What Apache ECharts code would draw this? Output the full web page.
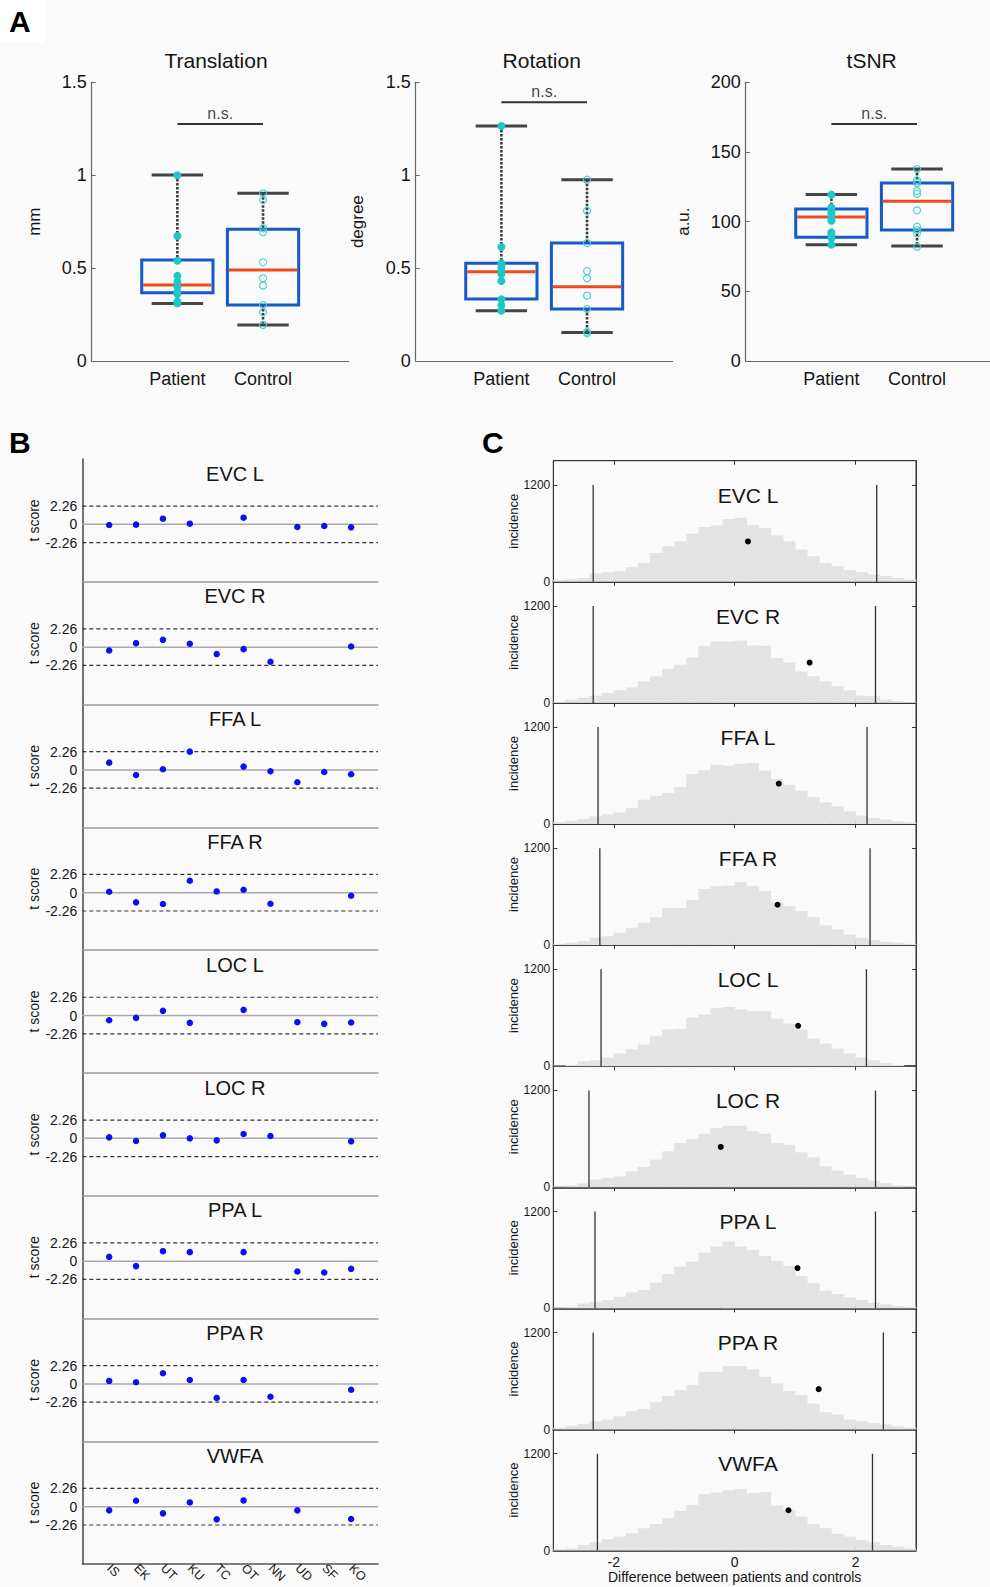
<!DOCTYPE html>
<html><head><meta charset="utf-8">
<script src="https://cdn.jsdelivr.net/npm/echarts@6/dist/echarts.min.js"></script>
<style>html,body{margin:0;padding:0;background:#fafafa}#c{width:990px;height:1587px}</style>
</head><body><div id="c"></div>
<script>
// ---------------- DATA ----------------
const GROUPS = ['Patient', 'Control'];
// Panel A: individual values and box statistics [min, Q1, median, Q3, max]
const TRANSLATION_PATIENT = [1.0, 0.673, 0.54, 0.458, 0.427, 0.40, 0.37, 0.36, 0.32, 0.31];
const TRANSLATION_CONTROL = [0.903, 0.867, 0.714, 0.693, 0.531, 0.445, 0.406, 0.301, 0.262, 0.194];
const TRANSLATION_BOX = [[0.310, 0.368, 0.409, 0.544, 1.001], [0.194, 0.301, 0.490, 0.709, 0.903]];
const ROTATION_PATIENT = [1.265, 0.614, 0.526, 0.508, 0.486, 0.468, 0.431, 0.332, 0.30, 0.271];
const ROTATION_CONTROL = [0.976, 0.809, 0.635, 0.484, 0.445, 0.352, 0.280, 0.158, 0.149];
const ROTATION_BOX = [[0.271, 0.334, 0.481, 0.526, 1.265], [0.153, 0.280, 0.400, 0.635, 0.976]];
const TSNR_PATIENT = [119.4, 110.3, 108.4, 106, 102.4, 100.7, 92.3, 90.4, 88, 83.5];
const TSNR_CONTROL = [137.8, 129.7, 127.8, 122, 120.1, 108.1, 96.4, 94, 91.6, 82];
const TSNR_BOX = [[83.5, 88.8, 103.3, 109.1, 119.4], [82.5, 94, 114.6, 127.8, 137.8]];
const NS_LEVEL = [1.275, 1.392, 170];
const A_YMAX = [1.5, 1.5, 200];
const A_YSTEP = [0.5, 0.5, 50];

// Panel B: t scores per subject (null = not available)
const SUBJECTS = ['IS', 'EK', 'UT', 'KU', 'TC', 'OT', 'NN', 'UD', 'SF', 'KO'];
const ROIS = ['EVC L', 'EVC R', 'FFA L', 'FFA R', 'LOC L', 'LOC R', 'PPA L', 'PPA R', 'VWFA'];
const T_CRIT = 2.26;
const T_TICKS = [-2.26, 0, 2.26];
const T_EVC_L = [-0.08, -0.04, 0.70, 0.08, null, 0.82, null, -0.33, -0.20, -0.37];
const T_EVC_R = [-0.41, 0.49, 0.90, 0.41, -0.86, -0.25, -1.81, null, null, 0.08];
const T_FFA_L = [0.90, -0.62, 0.08, 2.26, null, 0.41, -0.16, -1.52, -0.25, -0.53];
const T_FFA_R = [0.12, -1.19, -1.40, 1.48, 0.16, 0.37, -1.36, null, null, -0.37];
const T_LOC_L = [-0.58, -0.29, 0.58, -0.90, null, 0.70, null, -0.82, -1.03, -0.86];
const T_LOC_R = [0.12, -0.33, 0.37, 0.00, -0.25, 0.53, 0.29, null, null, -0.37];
const T_PPA_L = [0.53, -0.62, 1.23, 1.11, null, 1.11, null, -1.28, -1.40, -0.95];
const T_PPA_R = [0.37, 0.21, 1.32, 0.49, -1.73, 0.49, -1.58, null, null, -0.72];
const T_VWFA = [-0.45, 0.74, -0.82, 0.53, -1.56, 0.78, null, -0.45, null, -1.52];

// Panel C: permutation histograms (bin width 0.2)
const BIN_WIDTH = 0.2;
const BIN_CENTERS = [-2.9, -2.7, -2.5, -2.3, -2.1, -1.9, -1.7, -1.5, -1.3, -1.1, -0.9, -0.7, -0.5, -0.3, -0.1,
                     0.1, 0.3, 0.5, 0.7, 0.9, 1.1, 1.3, 1.5, 1.7, 1.9, 2.1, 2.3, 2.5, 2.7, 2.9];
const HIST_EVC_L = [25, 33, 45, 103, 119, 132, 181, 234, 358, 440, 501, 596, 678, 699, 777, 793, 703, 666, 575, 501, 399, 316, 234, 193, 144, 119, 90, 70, 49, 29];
const HIST_EVC_R = [16, 41, 66, 90, 123, 156, 193, 267, 329, 419, 473, 563, 707, 760, 760, 773, 711, 707, 555, 501, 390, 329, 267, 206, 156, 90, 82, 41, 21, 12];
const HIST_FFA_L = [25, 41, 62, 95, 120, 144, 198, 301, 351, 384, 458, 619, 664, 734, 722, 746, 755, 660, 557, 487, 412, 334, 268, 219, 157, 103, 74, 54, 33, 21];
const HIST_FFA_R = [16, 29, 50, 91, 111, 153, 214, 276, 346, 462, 462, 557, 697, 730, 738, 779, 730, 668, 532, 482, 421, 346, 243, 194, 132, 91, 62, 41, 29, 16];
const HIST_LOC_L = [8, 16, 62, 74, 107, 157, 210, 268, 371, 454, 462, 602, 639, 722, 734, 705, 680, 680, 590, 528, 454, 342, 280, 219, 157, 107, 74, 41, 16, 4];
const HIST_LOC_R = [12, 25, 50, 95, 116, 136, 198, 252, 342, 445, 548, 598, 664, 734, 763, 763, 693, 664, 548, 528, 433, 371, 260, 206, 157, 115, 82, 50, 25, 12];
const HIST_PPA_L = [8, 21, 62, 83, 104, 145, 199, 228, 319, 427, 518, 580, 692, 766, 828, 766, 725, 650, 588, 526, 402, 311, 220, 178, 137, 104, 70, 50, 29, 21];
const HIST_PPA_R = [21, 41, 70, 103, 123, 164, 226, 255, 337, 414, 488, 550, 716, 716, 786, 786, 745, 654, 571, 476, 426, 320, 214, 185, 123, 103, 82, 62, 41, 21];
const HIST_VWFA = [17, 29, 70, 103, 141, 174, 215, 277, 331, 401, 492, 567, 699, 720, 745, 761, 712, 724, 558, 505, 422, 327, 277, 207, 174, 132, 103, 70, 50, 25];
const CRIT_LOW = [-2.34, -2.34, -2.26, -2.23, -2.21, -2.41, -2.31, -2.34, -2.27];
const CRIT_HIGH = [2.35, 2.33, 2.19, 2.24, 2.18, 2.33, 2.33, 2.46, 2.28];
const OBSERVED_DIFF = [0.22, 1.24, 0.73, 0.71, 1.05, -0.23, 1.04, 1.39, 0.89];
const DOT_LEVEL = 500;
const CRIT_TOP = 1200;
const C_XTICKS = [-2, 0, 2];
const C_YTICKS = [0, 1200];

// ---------------- STYLE / LAYOUT ----------------
const FONT = '"Liberation Sans", Arial, Helvetica, sans-serif';
const TXT = '#151515';
const BOX_HALF = 0.416, CAP_HALF = 0.30;
const C_BOX = '#145ac8', C_MED = '#f04a1c', C_WHISK = '#3a3a3a', C_CYAN = '#1ec6c8';

const grids = [], xAxes = [], yAxes = [], series = [], graphics = [];

function boxRender(params, api) {
  const x = api.value(0);
  const pMin = api.coord([x, api.value(1)]), pQ1 = api.coord([x, api.value(2)]),
        pMd = api.coord([x, api.value(3)]), pQ3 = api.coord([x, api.value(4)]), pMax = api.coord([x, api.value(5)]);
  const hw = api.size([BOX_HALF, 0])[0], cw = api.size([CAP_HALF, 0])[0];
  const cx = pMin[0];
  const dash = {stroke: C_WHISK, lineWidth: 2.6, lineDash: [2.5, 1.5]};
  const cap = {stroke: '#444', lineWidth: 3};
  return {type: 'group', children: [
    {type: 'line', shape: {x1: cx, y1: pMax[1], x2: cx, y2: pQ3[1]}, style: dash},
    {type: 'line', shape: {x1: cx, y1: pQ1[1], x2: cx, y2: pMin[1]}, style: dash},
    {type: 'line', shape: {x1: cx - cw, y1: pMax[1], x2: cx + cw, y2: pMax[1]}, style: cap},
    {type: 'line', shape: {x1: cx - cw, y1: pMin[1], x2: cx + cw, y2: pMin[1]}, style: cap},
    {type: 'rect', shape: {x: cx - hw, y: pQ3[1], width: 2 * hw, height: pQ1[1] - pQ3[1]}, style: {fill: 'none', stroke: C_BOX, lineWidth: 3}},
    {type: 'line', shape: {x1: cx - hw + 1.5, y1: pMd[1], x2: cx + hw - 1.5, y2: pMd[1]}, style: {stroke: C_MED, lineWidth: 3}}
  ]};
}

// ---------------- PANEL A ----------------
const A_PANELS = [
  {title: 'Translation', unit: 'mm', p: TRANSLATION_PATIENT, c: TRANSLATION_CONTROL, box: TRANSLATION_BOX, left: 91.7, titleX: 216, nameGap: 49},
  {title: 'Rotation', unit: 'degree', p: ROTATION_PATIENT, c: ROTATION_CONTROL, box: ROTATION_BOX, left: 415.7, titleX: 541.7, nameGap: 50},
  {title: 'tSNR', unit: 'a.u.', p: TSNR_PATIENT, c: TSNR_CONTROL, box: TSNR_BOX, left: 745.7, titleX: 871.7, nameGap: 54}
];
A_PANELS.forEach((P, k) => {
  const gi = grids.length;
  grids.push({left: P.left, top: 82.3, width: 257, height: 278.7, outerBoundsMode: 'none'});
  xAxes.push({gridIndex: gi, type: 'value', min: 0, max: 3, splitLine: {show: false},
    axisLine: {show: true, onZero: false, lineStyle: {color: '#666', width: 1.2}}, axisTick: {show: false},
    axisLabel: {customValues: [1, 2], formatter: v => GROUPS[Math.round(v) - 1], fontSize: 18, color: TXT, fontFamily: FONT, margin: 9}});
  yAxes.push({gridIndex: gi, type: 'value', min: 0, max: A_YMAX[k], interval: A_YSTEP[k], splitLine: {show: false},
    name: P.unit, nameLocation: 'middle', nameGap: P.nameGap, nameTextStyle: {fontSize: 17, color: TXT, fontFamily: FONT},
    axisLine: {show: true, onZero: false, lineStyle: {color: '#666', width: 1.2}},
    axisTick: {show: true, inside: true, length: 4, lineStyle: {color: '#666'}},
    axisLabel: {fontSize: 18, color: TXT, fontFamily: FONT, margin: 5, formatter: v => String(v)}});
  series.push({type: 'custom', xAxisIndex: gi, yAxisIndex: gi, silent: true, z: 2, renderItem: boxRender,
    data: P.box.map((b, i) => [i + 1].concat(b))});
  series.push({type: 'scatter', xAxisIndex: gi, yAxisIndex: gi, silent: true, z: 3, symbol: 'circle', symbolSize: 8,
    itemStyle: {color: C_CYAN, opacity: 1}, data: P.p.map(v => [1, v])});
  series.push({type: 'scatter', xAxisIndex: gi, yAxisIndex: gi, silent: true, z: 3, symbol: 'circle', symbolSize: 7,
    itemStyle: {color: 'rgba(0,0,0,0)', borderColor: '#3fd0d0', borderWidth: 1.1, opacity: 1}, data: P.c.map(v => [2, v])});
  series.push({type: 'line', xAxisIndex: gi, yAxisIndex: gi, silent: true, symbol: 'none',
    lineStyle: {color: '#333', width: 2}, data: [[1, NS_LEVEL[k]], [2, NS_LEVEL[k]]]});
  series.push({type: 'scatter', xAxisIndex: gi, yAxisIndex: gi, silent: true, symbolSize: 0,
    itemStyle: {color: 'rgba(0,0,0,0)'},
    label: {show: true, position: 'top', distance: 3, formatter: 'n.s.', fontSize: 16, color: TXT, fontFamily: FONT},
    data: [[1.5, NS_LEVEL[k]]]});
  graphics.push({type: 'text', x: P.titleX, y: 60, style: {text: P.title, font: '21px ' + FONT, fill: TXT, textAlign: 'center', textVerticalAlign: 'middle'}});
});

// ---------------- PANEL B ----------------
const T_ALL = [T_EVC_L, T_EVC_R, T_FFA_L, T_FFA_R, T_LOC_L, T_LOC_R, T_PPA_L, T_PPA_R, T_VWFA];
const B_TOP = 459, B_H = 122.8;
ROIS.forEach((roi, r) => {
  const gi = grids.length;
  const last = r === ROIS.length - 1;
  const top = B_TOP + r * B_H;
  grids.push({left: 82.3, top: top, width: 295.7, height: B_H, outerBoundsMode: 'none'});
  xAxes.push({gridIndex: gi, type: 'value', min: 0, max: SUBJECTS.length + 1, splitLine: {show: false},
    axisLine: {show: true, onZero: false, lineStyle: {color: last ? '#555' : '#9a9a9a', width: 1.5}}, axisTick: {show: false},
    axisLabel: {show: last, customValues: SUBJECTS.map((s, i) => i + 1), formatter: v => SUBJECTS[Math.round(v) - 1],
      rotate: -45, fontSize: 12.5, color: TXT, fontFamily: FONT, margin: 2}});
  yAxes.push({gridIndex: gi, type: 'value', min: -7.1, max: 8.07, splitLine: {show: false},
    name: 't score', nameLocation: 'middle', nameGap: 37, nameTextStyle: {fontSize: 14, color: TXT, fontFamily: FONT},
    axisLine: {show: true, onZero: false, lineStyle: {color: '#444', width: 1.5}}, axisTick: {show: false},
    axisLabel: {customValues: T_TICKS, formatter: v => String(v), fontSize: 14, color: TXT, fontFamily: FONT, margin: 5}});
  [T_CRIT, -T_CRIT].forEach(v => series.push({type: 'line', xAxisIndex: gi, yAxisIndex: gi, silent: true, symbol: 'none', z: 1,
    lineStyle: {color: '#333', width: 1.2, type: [4, 3]}, data: [[0, v], [SUBJECTS.length + 1, v]]}));
  series.push({type: 'line', xAxisIndex: gi, yAxisIndex: gi, silent: true, symbol: 'none', z: 1,
    lineStyle: {color: '#aaa', width: 1.5}, data: [[0, 0], [SUBJECTS.length + 1, 0]]});
  series.push({type: 'scatter', xAxisIndex: gi, yAxisIndex: gi, silent: true, z: 3, symbolSize: 6.5,
    itemStyle: {color: '#0e0ef2', opacity: 1},
    data: T_ALL[r].map((v, i) => v === null ? null : [i + 1, v]).filter(d => d !== null)});
  graphics.push({type: 'text', x: 235, y: top + 14.5, style: {text: roi, font: '20px ' + FONT, fill: TXT, textAlign: 'center', textVerticalAlign: 'middle'}});
});

// ---------------- PANEL C ----------------
const HIST_ALL = [HIST_EVC_L, HIST_EVC_R, HIST_FFA_L, HIST_FFA_R, HIST_LOC_L, HIST_LOC_R, HIST_PPA_L, HIST_PPA_R, HIST_VWFA];
const C_TOP = 460.7, C_H = 121.1;
function histRender(params, api) {
  const c = api.value(0), h = api.value(1);
  const p0 = api.coord([c - BIN_WIDTH / 2, h]), p1 = api.coord([c + BIN_WIDTH / 2, 0]);
  return {type: 'rect', shape: {x: p0[0], y: p0[1], width: p1[0] - p0[0] + 0.3, height: p1[1] - p0[1]}, style: {fill: '#e3e3e3'}};
}
ROIS.forEach((roi, r) => {
  const gi = grids.length;
  const last = r === ROIS.length - 1;
  const top = C_TOP + r * C_H;
  grids.push({left: 553.3, top: top, width: 362.7, height: C_H, show: true, borderColor: '#333', borderWidth: 1,
    backgroundColor: 'rgba(0,0,0,0)', outerBoundsMode: 'none'});
  const xBottom = xAxes.length;
  xAxes.push({gridIndex: gi, type: 'value', min: -3, max: 3, splitLine: {show: false},
    axisLine: {show: true, onZero: false, lineStyle: {color: '#222', width: 1.5}},
    axisTick: {show: true, inside: true, length: 4, customValues: C_XTICKS, lineStyle: {color: '#222'}},
    axisLabel: {show: last, customValues: C_XTICKS, formatter: v => String(v), fontSize: 14, color: TXT, fontFamily: FONT, margin: 4},
    name: last ? 'Difference between patients and controls' : '', nameLocation: 'middle', nameGap: 19,
    nameTextStyle: {fontSize: 14, color: TXT, fontFamily: FONT, verticalAlign: 'top'}});
  xAxes.push({gridIndex: gi, type: 'value', position: 'top', min: -3, max: 3, splitLine: {show: false},
    axisLine: {show: true, onZero: false, lineStyle: {color: '#333', width: 1}},
    axisTick: {show: true, inside: true, length: 4, customValues: C_XTICKS, lineStyle: {color: '#333'}},
    axisLabel: {show: false}});
  const yLeft = yAxes.length;
  yAxes.push({gridIndex: gi, type: 'value', min: 0, max: 1500, splitLine: {show: false},
    name: 'incidence', nameLocation: 'middle', nameGap: 30, nameTextStyle: {fontSize: 13, color: TXT, fontFamily: FONT},
    axisLine: {show: true, onZero: false, lineStyle: {color: '#333', width: 1}},
    axisTick: {show: true, inside: true, length: 4, customValues: [CRIT_TOP], lineStyle: {color: '#333'}},
    axisLabel: {customValues: C_YTICKS, formatter: v => String(v), fontSize: 12, color: TXT, fontFamily: FONT, margin: 3}});
  yAxes.push({gridIndex: gi, type: 'value', position: 'right', min: 0, max: 1500, splitLine: {show: false},
    axisLine: {show: true, onZero: false, lineStyle: {color: '#333', width: 1}},
    axisTick: {show: true, inside: true, length: 4, customValues: [CRIT_TOP], lineStyle: {color: '#333'}},
    axisLabel: {show: false}});
  series.push({type: 'custom', xAxisIndex: xBottom, yAxisIndex: yLeft, silent: true, z: 1, renderItem: histRender,
    data: BIN_CENTERS.map((c, i) => [c, HIST_ALL[r][i]])});
  [CRIT_LOW[r], CRIT_HIGH[r]].forEach(v => series.push({type: 'line', xAxisIndex: xBottom, yAxisIndex: yLeft, silent: true,
    symbol: 'none', z: 2, lineStyle: {color: '#333', width: 1.3}, data: [[v, 0], [v, CRIT_TOP]]}));
  series.push({type: 'scatter', xAxisIndex: xBottom, yAxisIndex: yLeft, silent: true, z: 3, symbolSize: 6,
    itemStyle: {color: '#000', opacity: 1}, data: [[OBSERVED_DIFF[r], DOT_LEVEL]]});
  graphics.push({type: 'text', x: 748, y: top + 34.3, style: {text: roi, font: '21px ' + FONT, fill: TXT, textAlign: 'center', textVerticalAlign: 'middle'}});
});

// panel letters
graphics.push({type: 'rect', shape: {x: 0, y: 0, width: 45, height: 43}, style: {fill: '#ffffff'}, z: -1});
[['A', 9, 21], ['B', 9, 442], ['C', 482, 442]].forEach(([t, x, y]) =>
  graphics.push({type: 'text', x: x, y: y, style: {text: t, font: 'bold 30px ' + FONT, fill: '#000', textAlign: 'left', textVerticalAlign: 'middle'}}));

const chart = echarts.init(document.getElementById('c'), null, {renderer: 'svg'});
chart.setOption({
  animation: false,
  backgroundColor: '#fafafa',
  textStyle: {fontFamily: FONT},
  grid: grids, xAxis: xAxes, yAxis: yAxes, series: series, graphic: graphics
});
</script></body></html>
